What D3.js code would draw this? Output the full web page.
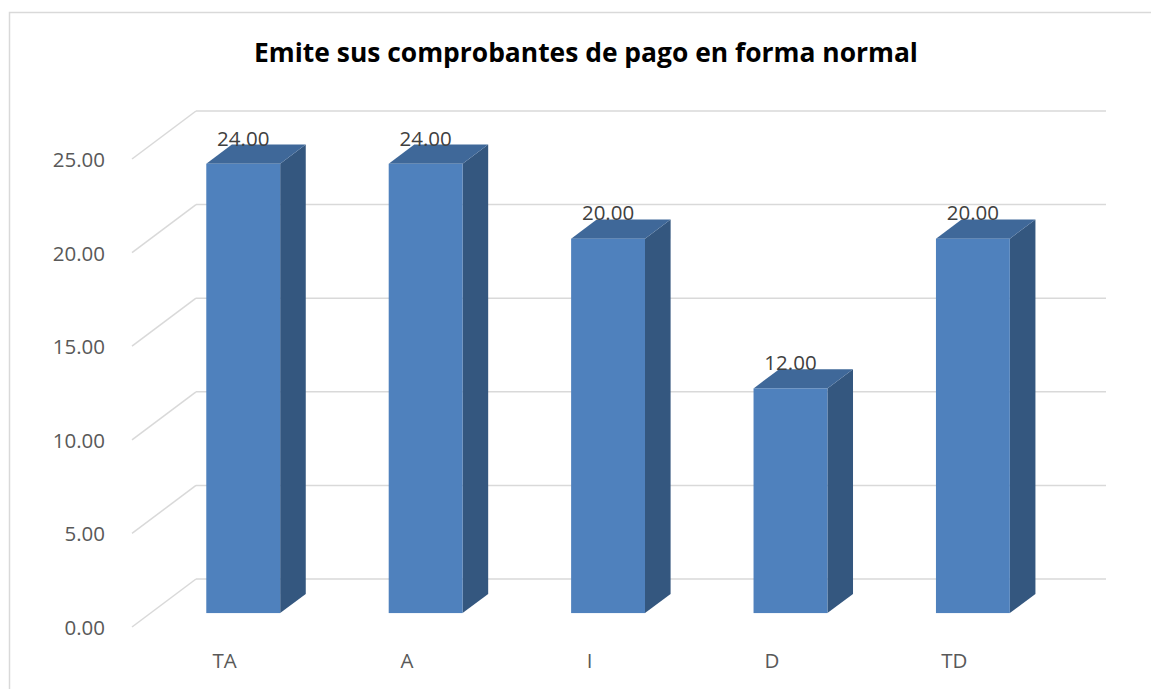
<!DOCTYPE html>
<html><head><meta charset="utf-8">
<script src="https://cdnjs.cloudflare.com/ajax/libs/d3/7.8.5/d3.min.js"></script>
<style>body{margin:0;background:#fff;} svg{display:block;}</style>
</head><body>
<script>
const title = "Emite sus comprobantes de pago en forma normal";
const categories = ["TA", "A", "I", "D", "TD"];
const values = [24, 24, 20, 12, 20];
const yTicks = [0, 5, 10, 15, 20, 25];

const W = 1151, H = 689;
const svg = d3.select("body").append("svg").attr("width", W).attr("height", H);

// chart border (cropped at right/bottom)
svg.append("path").attr("d", `M9.5,${H} V12.5 H${W}`)
  .attr("fill", "none").attr("stroke", "#d9d9d9").attr("stroke-width", 1.5);

// 3D geometry
const frontX0 = 132, frontX1 = 1042;       // front edge of floor
const depthDX = 64, depthDY = 48;          // full depth offset
const t1 = 0.29, t2 = 0.69;                // bar front/back depth fractions

const y = d3.scaleLinear().domain([0, 25]).range([627, 159]);
const x = d3.scaleBand().domain(categories).range([133, 1046])
  .paddingInner(0.595).paddingOuter(0.3);

const grid = svg.append("g");
yTicks.forEach(v => {
  const yf = y(v);
  grid.append("line").attr("x1", frontX0).attr("y1", yf)
    .attr("x2", frontX0 + depthDX).attr("y2", yf - depthDY)
    .attr("stroke", "#d9d9d9").attr("stroke-width", 1.5);
  grid.append("line").attr("x1", frontX0 + depthDX).attr("y1", yf - depthDY)
    .attr("x2", frontX1 + depthDX).attr("y2", yf - depthDY)
    .attr("stroke", "#d9d9d9").attr("stroke-width", 1.5);
});

// y axis labels
svg.append("g").selectAll("text").data(yTicks).join("text")
  .attr("x", 105).attr("y", d => y(d))
  .attr("text-anchor", "end").attr("dominant-baseline", "central")
  .attr("font-family", "Open Sans, sans-serif").attr("font-size", 20.5)
  .attr("fill", "#595959").text(d => d.toFixed(2));

// x axis labels
svg.append("g").selectAll("text").data(categories).join("text")
  .attr("x", d => x(d) + x.bandwidth() / 2).attr("y", 668)
  .attr("text-anchor", "middle")
  .attr("font-family", "Open Sans, sans-serif").attr("font-size", 20.5)
  .attr("fill", "#595959").text(d => d);

// bars
const fdx = t1 * depthDX, fdy = t1 * depthDY;
const bdx = (t2 - t1) * depthDX, bdy = (t2 - t1) * depthDY;
const bars = svg.append("g");
categories.forEach((c, i) => {
  const v = values[i];
  const x0 = x(c) + fdx, x1 = x0 + x.bandwidth();
  const yT = y(v) - fdy, yB = y(0) - fdy;
  // side
  bars.append("path").attr("d",
    `M${x1},${yT} L${x1 + bdx},${yT - bdy} L${x1 + bdx},${yB - bdy} L${x1},${yB} Z`)
    .attr("fill", "#34577f");
  // top
  bars.append("path").attr("d",
    `M${x0},${yT} L${x0 + bdx},${yT - bdy} L${x1 + bdx},${yT - bdy} L${x1},${yT} Z`)
    .attr("fill", "#3f6899");
  // front
  bars.append("rect").attr("x", x0).attr("y", yT).attr("width", x1 - x0).attr("height", yB - yT)
    .attr("fill", "#4f81bd");
  // label
  bars.append("text").attr("x", (x0 + x1) / 2).attr("y", yT - bdy + 1)
    .attr("text-anchor", "middle")
    .attr("font-family", "Open Sans, sans-serif").attr("font-size", 20.5)
    .attr("fill", "#404040").text(v.toFixed(2));
});

// title, fit to target width
const t = svg.append("text").attr("x", 586).attr("y", 62).attr("text-anchor", "middle")
  .attr("font-family", "Open Sans, sans-serif").attr("font-weight", "bold")
  .attr("font-size", 26).attr("fill", "#000").text(title);
const tw = t.node().getComputedTextLength();
t.attr("font-size", 26 * 664 / tw);
</script>
</body></html>
